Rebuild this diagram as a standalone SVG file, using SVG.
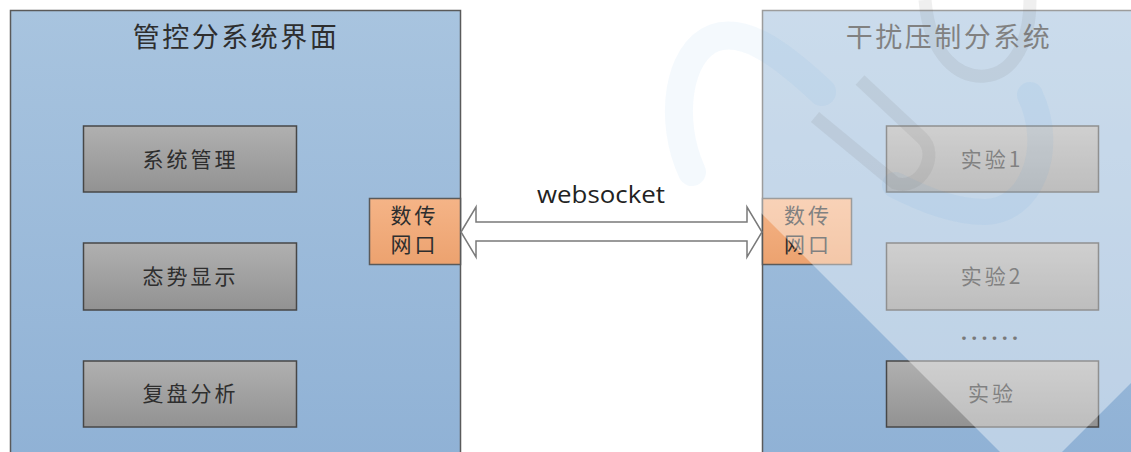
<svg xmlns="http://www.w3.org/2000/svg" width="1131" height="452" viewBox="0 0 1131 452">
<defs>
<linearGradient id="gPanel" x1="0" y1="0" x2="0" y2="1">
<stop offset="0" stop-color="#a8c4df"/>
<stop offset="1" stop-color="#8fb1d5"/>
</linearGradient>
<linearGradient id="gBox" x1="0" y1="0" x2="0" y2="1">
<stop offset="0" stop-color="#b0b0b0"/>
<stop offset="1" stop-color="#929292"/>
</linearGradient>
<linearGradient id="gPort" x1="0" y1="0" x2="0" y2="1">
<stop offset="0" stop-color="#f5b487"/>
<stop offset="1" stop-color="#eca26f"/>
</linearGradient>
<style>
.panel{fill:url(#gPanel);stroke:#5a5a5a;stroke-width:1.5}
.box{fill:url(#gBox);stroke:#474747;stroke-width:1.5}
.port{fill:url(#gPort);stroke:#5a5a5a;stroke-width:1.5}
.t{font-family:"Noto Sans CJK SC","Noto Sans",sans-serif;fill:#2e2e2e;text-anchor:middle}
.title{font-size:27px;letter-spacing:2.5px}
.lbl{font-size:21px;letter-spacing:3px}
.plbl{font-size:21px;letter-spacing:3px}
.en{font-family:"Open Sans","Liberation Sans",sans-serif;fill:#222}
</style>
</defs>
<rect width="1131" height="452" fill="#ffffff"/>

<g id="panel-left">
<rect class="panel" x="10.5" y="10.5" width="450" height="460"/>
<text class="t title" x="236" y="47">管控分系统界面</text>
</g>
<g id="box-sysmgmt">
<rect class="box" x="83.5" y="126" width="213" height="66"/>
<text class="t lbl" x="190.5" y="167">系统管理</text>
</g>
<g id="box-situation">
<rect class="box" x="83.5" y="243" width="213" height="67"/>
<text class="t lbl" x="190.5" y="284">态势显示</text>
</g>
<g id="box-replay">
<rect class="box" x="83.5" y="361" width="213" height="66"/>
<text class="t lbl" x="190.5" y="401">复盘分析</text>
</g>
<g id="port-left">
<rect class="port" x="369.5" y="198.5" width="91" height="66"/>
<text class="t plbl" x="414.5" y="223">数传</text>
<text class="t plbl" x="414.5" y="252">网口</text>
</g>

<g id="panel-right">
<rect class="panel" x="762.5" y="10.5" width="400" height="460"/>
<text class="t title" x="949" y="47">干扰压制分系统</text>
</g>
<g id="box-exp1">
<rect class="box" x="886.5" y="126" width="212" height="66"/>
<text class="t lbl" x="992" y="167">实验1</text>
</g>
<g id="box-exp2">
<rect class="box" x="886.5" y="243" width="212" height="67"/>
<text class="t lbl" x="992" y="284">实验2</text>
</g>
<g id="dots">
<text class="en" x="961" y="340" font-size="21" font-weight="bold" letter-spacing="4.2" fill="#333">......</text>
</g>
<g id="box-exp">
<rect class="box" x="886.5" y="361" width="212" height="66"/>
<text class="t lbl" x="992" y="401">实验</text>
</g>
<g id="port-right">
<rect class="port" x="762.5" y="198.5" width="89" height="66"/>
<text class="t plbl" x="808" y="223">数传</text>
<text class="t plbl" x="808" y="252">网口</text>
</g>

<g id="connectors">
<polygon points="461,232 476,207 476,222 747,222 747,207 762,232 747,257 747,241 476,241 476,257" fill="#ffffff" stroke="#7a7a7a" stroke-width="1.5" stroke-linejoin="miter"/>
<text class="en" x="537" y="203" font-size="23" textLength="128" lengthAdjust="spacingAndGlyphs">websocket</text>
</g>

<g id="watermark">
<polygon points="548,0 1131,0 1131,383 1062,452 1000,452" fill="#ffffff" fill-opacity="0.4"/>
<path d="M692,172 C668,120 678,52 714,38 C742,28 775,48 822,92" fill="none" stroke="#4a9ae0" stroke-opacity="0.06" stroke-width="28" stroke-linecap="round"/>
<path d="M1030,95 C1056,150 1030,212 985,212 C955,212 925,200 895,185" fill="none" stroke="#4a9ae0" stroke-opacity="0.07" stroke-width="26" stroke-linecap="round"/>
<path d="M860,80 L922,138 C940,155 920,192 895,183 L815,117" fill="none" stroke="#707070" stroke-opacity="0.12" stroke-width="13"/>
<path d="M925,0 C930,58 960,78 985,76 C1015,73 1030,40 1030,0" fill="none" stroke="#707070" stroke-opacity="0.11" stroke-width="13"/>
</g>
</svg>
